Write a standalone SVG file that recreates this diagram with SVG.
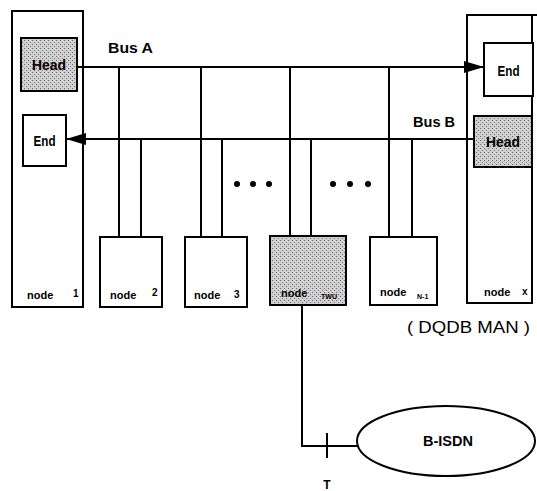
<svg xmlns="http://www.w3.org/2000/svg" width="537" height="491" viewBox="0 0 537 491">
<defs>
<pattern id="stip" width="4" height="4" patternUnits="userSpaceOnUse">
<rect width="4" height="4" fill="#d0d0d0"/>
<rect x="0" y="0" width="1" height="1" fill="#666"/>
<rect x="2" y="2" width="1" height="1" fill="#777"/>
</pattern>
<marker id="arr" viewBox="0 0 20 12" refX="20" refY="6" markerWidth="20" markerHeight="12" markerUnits="userSpaceOnUse" orient="auto">
<path d="M0,0 L20,6 L0,12 Z" fill="#000"/>
</marker>
</defs>
<style>
.box{fill:#fff;stroke:#000;stroke-width:2}
.frame{fill:none;stroke:#000;stroke-width:2}
.sh{fill:url(#stip);stroke:#000;stroke-width:2}
.ln{fill:none;stroke:#000;stroke-width:2}
.t{font-family:"Liberation Sans",Arial,sans-serif;font-weight:bold;fill:#000}
.n{font-family:"Liberation Sans",Arial,sans-serif;font-weight:normal;fill:#000}
</style>
<g id="node1">
<rect class="frame" x="12" y="11" width="71" height="296"/>
<text class="t" x="27" y="299" font-size="11">node</text>
<text class="t" x="73" y="297" font-size="10">1</text>
</g>
<g id="nodeX">
<path class="frame" d="M537,15 H467 V303 H532 V15"/>
<text class="t" x="484" y="296" font-size="11">node</text>
<text class="t" x="522" y="295" font-size="10">x</text>
</g>
<g id="connectors">
<line class="ln" x1="77" y1="67" x2="484" y2="67" marker-end="url(#arr)"/>
<line class="ln" x1="474" y1="139" x2="66" y2="139" marker-end="url(#arr)"/>
<line class="ln" x1="119" y1="67" x2="119" y2="237"/>
<line class="ln" x1="141" y1="139" x2="141" y2="237"/>
<line class="ln" x1="201" y1="67" x2="201" y2="237"/>
<line class="ln" x1="222" y1="139" x2="222" y2="237"/>
<line class="ln" x1="290" y1="67" x2="290" y2="236"/>
<line class="ln" x1="311" y1="139" x2="311" y2="236"/>
<line class="ln" x1="389" y1="67" x2="389" y2="237"/>
<line class="ln" x1="412" y1="139" x2="412" y2="237"/>
<polyline class="ln" points="302,305 302,446 357,446"/>
<line class="ln" x1="327" y1="433" x2="327" y2="458"/>
</g>
<g id="head1">
<rect class="sh" x="21" y="38" width="56" height="53"/>
<text class="t" x="49" y="70" font-size="14" text-anchor="middle" textLength="34" lengthAdjust="spacingAndGlyphs">Head</text>
</g>
<g id="end1">
<rect class="box" x="23" y="115" width="43" height="51"/>
<text class="t" x="44.5" y="146" font-size="14" text-anchor="middle" textLength="22" lengthAdjust="spacingAndGlyphs">End</text>
</g>
<g id="endX">
<rect class="box" x="484" y="43" width="49" height="53"/>
<text class="t" x="508.5" y="76" font-size="14" text-anchor="middle" textLength="22" lengthAdjust="spacingAndGlyphs">End</text>
</g>
<g id="headX">
<rect class="sh" x="474" y="116" width="58" height="51"/>
<text class="t" x="503" y="147" font-size="14" text-anchor="middle" textLength="34" lengthAdjust="spacingAndGlyphs">Head</text>
</g>
<g id="node2">
<rect class="box" x="100" y="237" width="62" height="70"/>
<text class="t" x="110" y="299" font-size="11">node</text>
<text class="t" x="152" y="296" font-size="10">2</text>
</g>
<g id="node3">
<rect class="box" x="185" y="237" width="62" height="70"/>
<text class="t" x="194" y="299" font-size="11">node</text>
<text class="t" x="234" y="298" font-size="10">3</text>
</g>
<g id="nodeTWU">
<rect class="sh" x="270" y="236" width="76" height="69"/>
<text class="t" x="281" y="297" font-size="11">node</text>
<text class="t" x="321" y="299" font-size="7">TWU</text>
</g>
<g id="nodeN1">
<rect class="box" x="370" y="237" width="67" height="68"/>
<text class="t" x="380" y="296" font-size="11">node</text>
<text class="t" x="417" y="299" font-size="7">N-1</text>
</g>
<g id="bisdn">
<ellipse class="box" cx="446" cy="441" rx="89" ry="35"/>
<text class="t" x="448" y="446" font-size="14" text-anchor="middle" textLength="50" lengthAdjust="spacingAndGlyphs">B-ISDN</text>
</g>
<g id="labels">
<text class="t" x="108" y="53" font-size="15" textLength="45" lengthAdjust="spacingAndGlyphs">Bus A</text>
<text class="t" x="413" y="127" font-size="15" textLength="42" lengthAdjust="spacingAndGlyphs">Bus B</text>
<text class="n" x="407" y="333" font-size="17" textLength="123" lengthAdjust="spacingAndGlyphs">( DQDB MAN )</text>
<text class="t" x="327" y="489" font-size="12" text-anchor="middle">T</text>
<g fill="#000">
<circle cx="237" cy="184" r="3"/><circle cx="253" cy="184" r="3"/><circle cx="269" cy="184" r="3"/>
<circle cx="333" cy="184" r="3"/><circle cx="350" cy="184" r="3"/><circle cx="368" cy="184" r="3"/>
</g>
</g>
</svg>
